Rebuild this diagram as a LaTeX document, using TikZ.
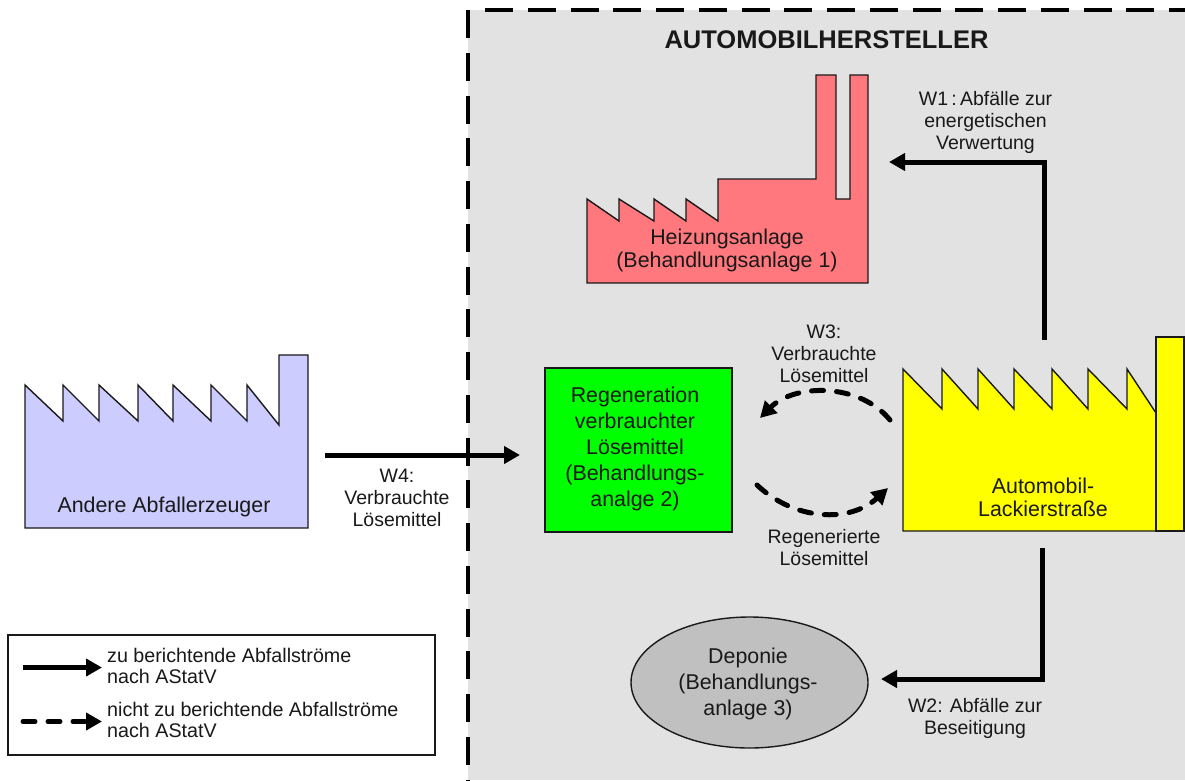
\documentclass[tikz,border=0pt]{standalone}
\usepackage{fontspec}
\setmainfont{Liberation Sans}
\usetikzlibrary{arrows.meta}
\definecolor{panelgray}{RGB}{226,226,226}
\definecolor{redfill}{RGB}{255,120,125}
\definecolor{bluefill}{RGB}{204,204,255}
\definecolor{greenfill}{RGB}{0,255,0}
\definecolor{yellowfill}{RGB}{255,255,0}
\definecolor{ellipsefill}{RGB}{192,192,192}
\definecolor{ink}{RGB}{25,25,25}
\tikzset{
  x=1pt,y=-1pt,
  shape line/.style={draw=ink,line width=1.4pt,line join=miter},
  lab/.style={align=center,inner sep=0pt,text=ink,font=\fontsize{21.4}{23.5}\selectfont},
  labwide/.style={align=center,inner sep=0pt,text=ink,font=\fontsize{21.4}{26}\selectfont},
  small/.style={align=center,inner sep=0pt,text=ink,font=\fontsize{19.5}{22}\selectfont},
  legtext/.style={align=left,anchor=west,inner sep=0pt,text=ink,font=\fontsize{19.7}{21}\selectfont},
  flow/.style={line width=5pt,draw=black,-{Triangle[length=16pt,width=17pt]}},
  dflow/.style={flow,dash pattern=on 12pt off 13pt,line cap=round},
  border/.style={black,line width=4pt,dash pattern=on 28pt off 14.75pt},
}
\begin{document}
\begin{tikzpicture}
\useasboundingbox (0,0) rectangle (1185,780);
\fill[white] (0,0) rectangle (1185,780);
\fill[panelgray] (468,10) rectangle (1185,780);
\coordinate (panelBL) at (468,780);
\coordinate (panelTL) at (468,10);
\coordinate (topStart) at (485,10);
\coordinate (panelTR) at (1185,10);
\draw[border] (panelTL) -- (panelBL);
\draw[border] (topStart) -- (panelTR);

\node[font=\fontsize{25.5}{28}\selectfont\bfseries,text=ink,inner sep=0pt] (title) at (826.5,40) {AUTOMOBILHERSTELLER};

% Heizungsanlage
\draw[shape line,fill=redfill] (587,283) -- (587,199) -- (619,221) -- (619,199) -- (654,221) -- (654,199) -- (686,221) -- (686,199) -- (718,221) -- (718,179) -- (816,179) -- (816,75) -- (836,75) -- (836,199) -- (850,199) -- (850,75) -- (868,75) -- (868,283) -- cycle;
\node[lab] (heiz) at (727,250.5) {Heizungsanlage\\(Behandlungsanlage 1)};

% Lackierstrasse
\draw[shape line,fill=yellowfill] (903,531) -- (903,369) -- (942,409) -- (942,369) -- (978,409) -- (978,369) -- (1014,409) -- (1014,369) -- (1052,409) -- (1052,369) -- (1088,409) -- (1088,369) -- (1127,409) -- (1127,369) -- (1156,413) -- (1156,531) -- cycle;
\draw[shape line,fill=yellowfill] (1156,531) rectangle (1184,337);
\node[lab] (lack) at (1043,497.5) {Automobil-\\Lackierstraße};

% Andere
\draw[shape line,fill=bluefill] (25,528) -- (25,385) -- (63,421) -- (63,385) -- (99,421) -- (99,385) -- (138,421) -- (138,385) -- (173,421) -- (173,385) -- (211,421) -- (211,385) -- (247,421) -- (247,385) -- (279,425) -- (279,355) -- (308,355) -- (308,528) -- cycle;
\node[lab] (andere) at (164,507) {Andere Abfallerzeuger};

% Regeneration
\node[shape line,fill=greenfill,minimum width=187pt,minimum height=164pt,inner sep=0pt] (green) at (638.5,450) {};
\node[labwide] (regen) at (635,449) {Regeneration\\verbrauchter\\Lösemittel\\(Behandlungs-\\analge 2)};

% Deponie
\draw[shape line,fill=ellipsefill] (749.5,682.5) ellipse [x radius=118.5,y radius=65.5];
\node[labwide] (depo) at (748,683.5) {Deponie\\(Behandlungs-\\anlage 3)};

% Flow labels
\node[small] (w1) at (985.5,122) {W1\,:\,Abfälle zur\\energetischen\\Verwertung};
\node[small] (w2) at (975,718) {W2: Abfälle zur\\Beseitigung};
\node[small] (w3) at (824,354) {W3:\\Verbrauchte\\Lösemittel};
\node[small] (reg) at (824,548) {Regenerierte\\Lösemittel};
\node[small] (w4) at (397,498) {W4:\\Verbrauchte\\Lösemittel};

% Flow ends
\coordinate (w1a) at (1044,340);
\coordinate (w1b) at (1044,162);
\coordinate (w1c) at (889,162);
\coordinate (w2a) at (1042,548);
\coordinate (w2b) at (1042,679);
\coordinate (w2c) at (881,679);
\coordinate (w4a) at (325,455);
\coordinate (w4b) at (520,455);
\coordinate (w3a) at (890,420);
\coordinate (w3b) at (760,418);
\coordinate (rega) at (757,485);
\coordinate (regb) at (888,488);

\draw[flow,line join=miter] (w1a) -- (w1b) -- (w1c);
\draw[flow,line join=miter] (w2a) -- (w2b) -- (w2c);
\draw[flow] (w4a) -- (w4b);
\draw[dflow] (w3a) .. controls (860,383) and (795,383) .. (w3b);
\draw[dflow] (rega) .. controls (795,521) and (850,523) .. (regb);

% Legend
\node[draw=ink,line width=1.4pt,fill=white,minimum width=427pt,minimum height=120pt,inner sep=0pt] (legend) at (221.5,695) {};
\coordinate (l1a) at (23,667.5);
\coordinate (l1b) at (102,667.5);
\coordinate (l2a) at (23,721.5);
\coordinate (l2b) at (102,721.5);
\draw[flow] (l1a) -- (l1b);
\draw[dflow] (l2a) -- (l2b);
\node[legtext] (lt1) at (107,665.5) {zu berichtende Abfallströme\\nach AStatV};
\node[legtext] (lt2) at (107,719.5) {nicht zu berichtende Abfallströme\\nach AStatV};
\end{tikzpicture}
\end{document}
